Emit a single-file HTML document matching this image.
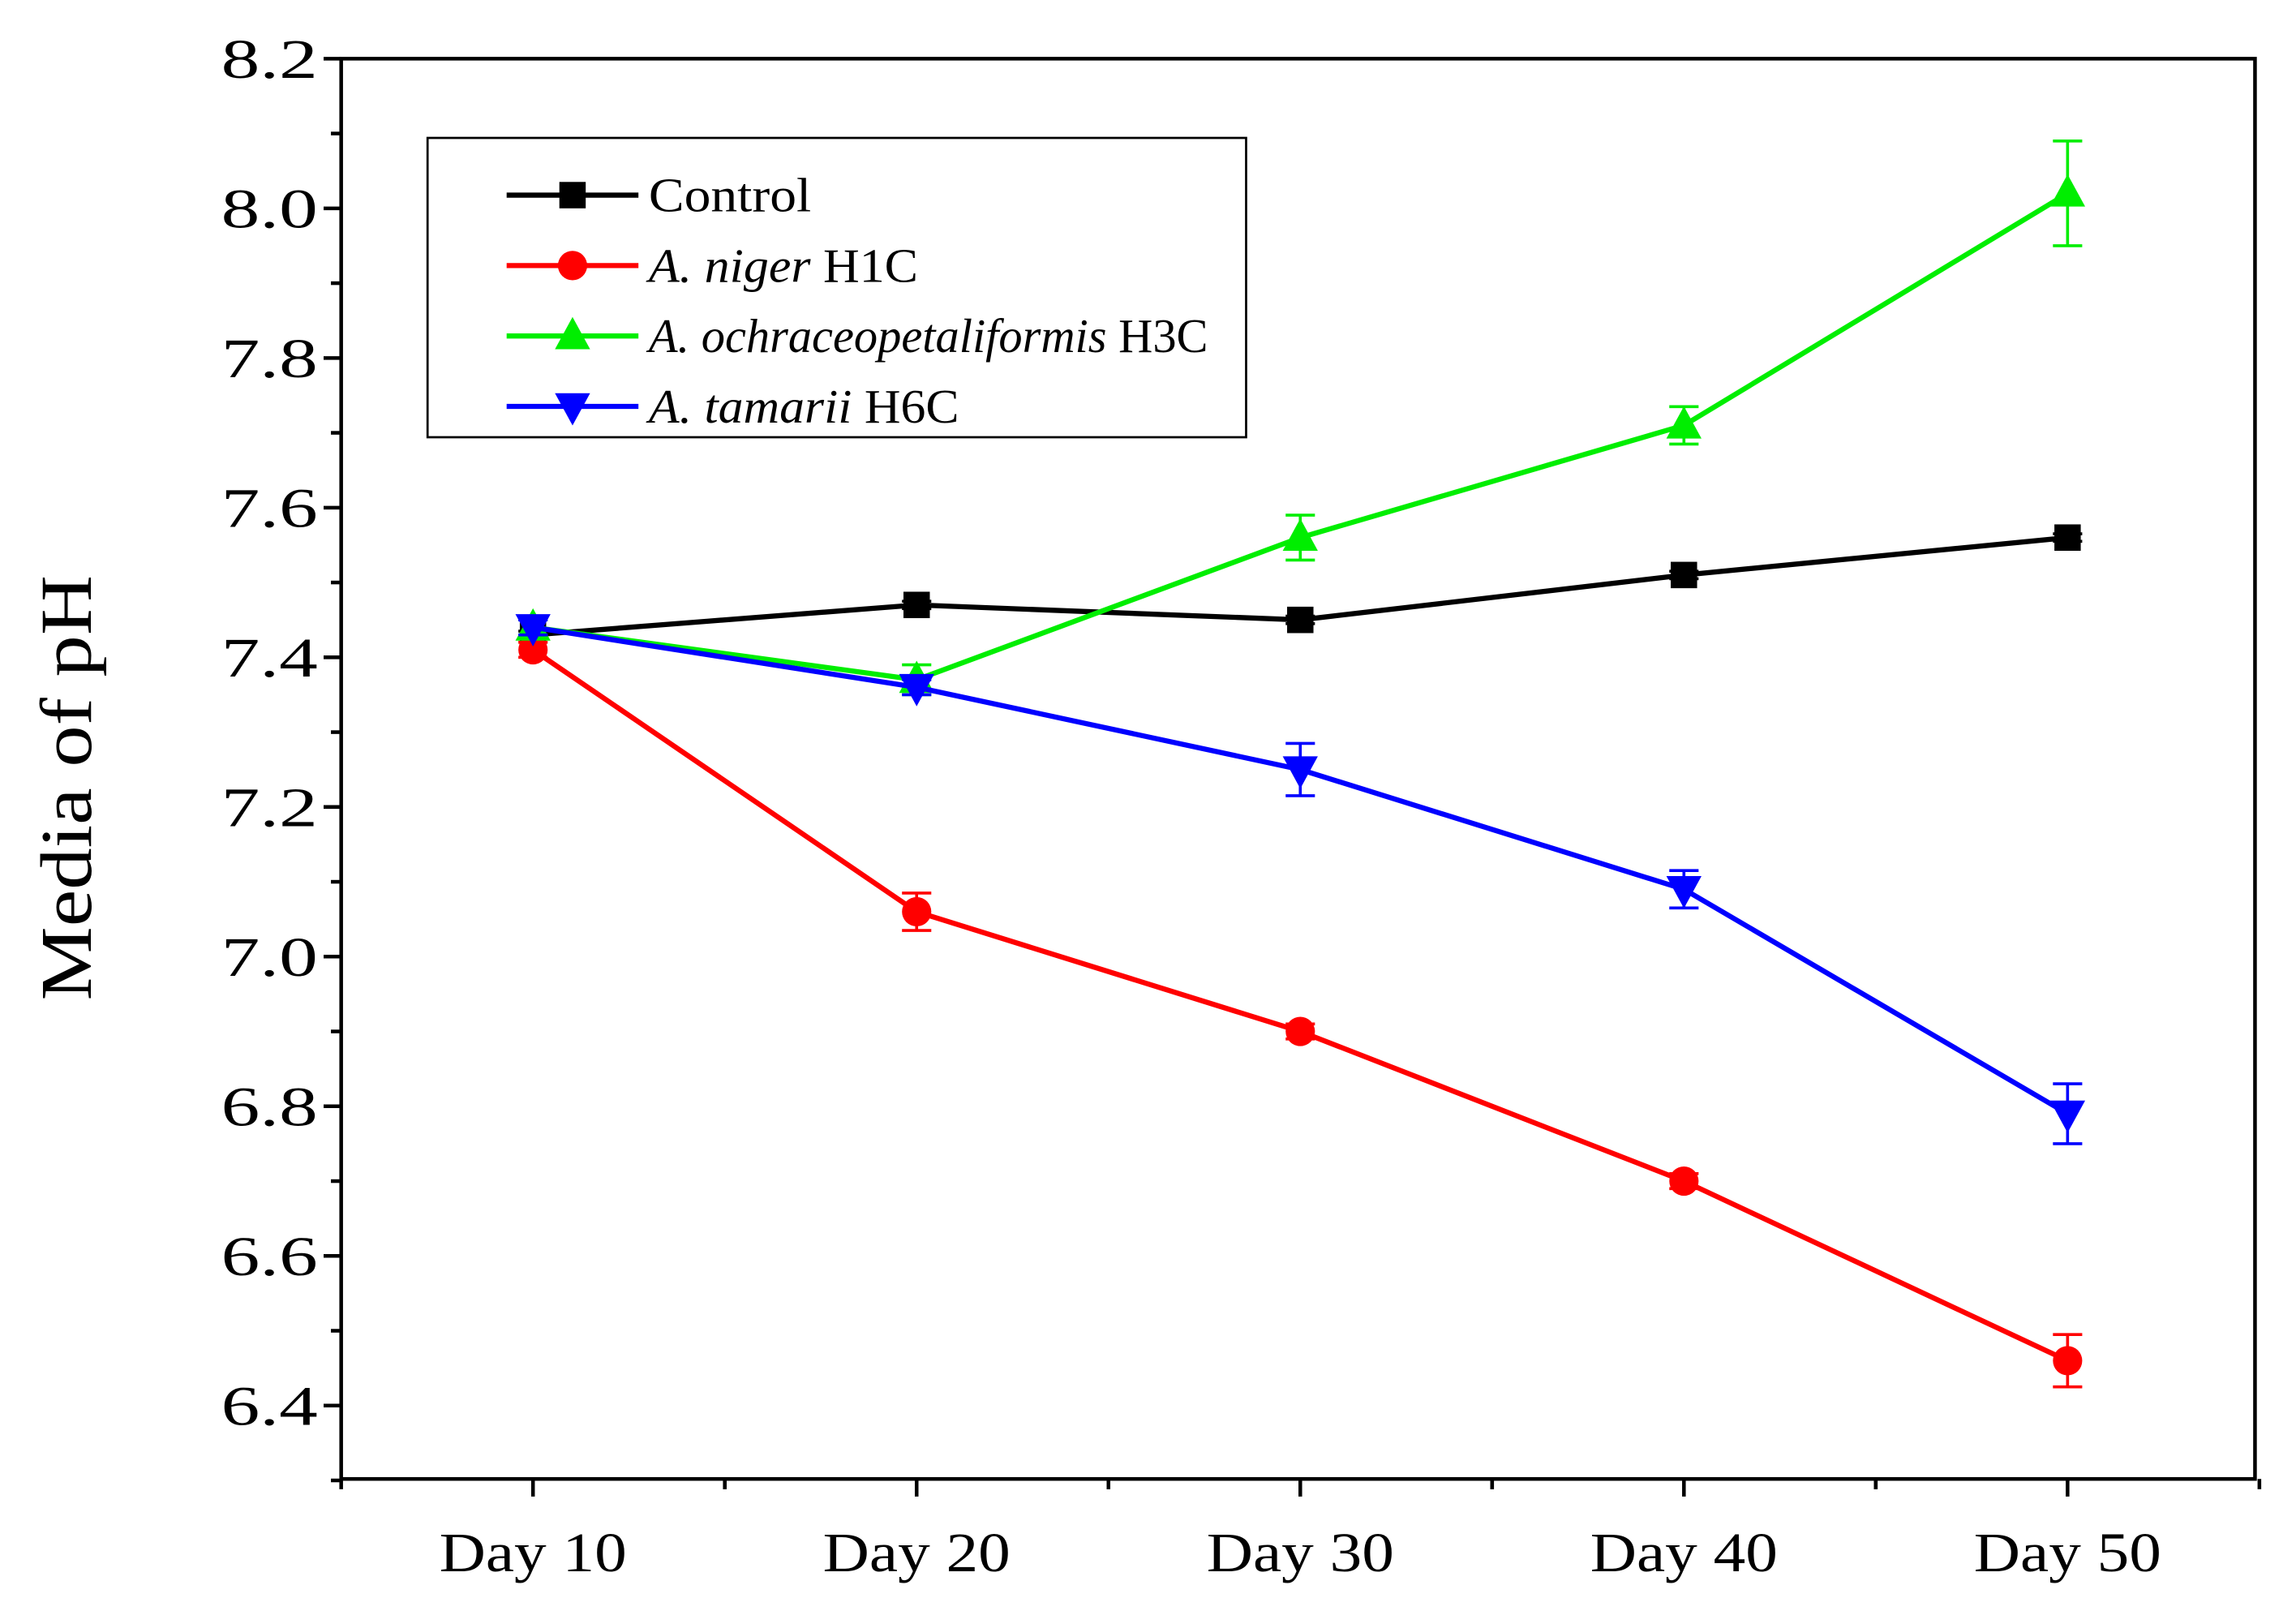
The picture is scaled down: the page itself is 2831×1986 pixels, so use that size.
<!DOCTYPE html>
<html><head><meta charset="utf-8"><style>
html,body{margin:0;padding:0;background:#fff;}
svg{display:block;font-family:"Liberation Serif",serif;}
</style></head><body>
<svg id="chart" width="2831" height="1986" viewBox="0 0 1568 1098" preserveAspectRatio="none" xmlns="http://www.w3.org/2000/svg">
<rect width="1568" height="1098" fill="#fff"/>
<g id="axes"></g>
<g id="series"></g>
<g id="legend">
<rect x="292" y="94" width="559" height="204" fill="#fff" stroke="#000" stroke-width="1.5"/>
</g>
<text transform="translate(62,537) rotate(-90)" text-anchor="middle" font-size="50" textLength="290" lengthAdjust="spacingAndGlyphs">Media of pH</text>
</svg>
<script>
const categories = ["Day 10","Day 20","Day 30","Day 40","Day 50"];
const yTicks = [6.4,6.6,6.8,7.0,7.2,7.4,7.6,7.8,8.0,8.2];
const controlVals = [7.43,7.47,7.45,7.51,7.56];
const controlErr = [0.005,0.005,0.005,0.005,0.005];
const nigerVals = [7.41,7.06,6.90,6.70,6.46];
const nigerErr = [0.01,0.025,0.01,0.01,0.035];
const ochraVals = [7.44,7.37,7.56,7.71,8.02];
const ochraErr = [0.01,0.02,0.03,0.025,0.07];
const tamariiVals = [7.44,7.36,7.25,7.09,6.79];
const tamariiErr = [0.01,0.01,0.035,0.025,0.04];

const NS="http://www.w3.org/2000/svg";
const X0=233,X1=1540,YT=40,YB=1008;
function xPos(i){return 364+i*262;}
function yPos(v){return 958-(v-6.4)/0.2*102;}
function mk(tag,attrs,parent){const e=document.createElementNS(NS,tag);for(const k in attrs)e.setAttribute(k,attrs[k]);parent.appendChild(e);return e;}
const axes=document.getElementById('axes');
mk('rect',{x:X0,y:YT,width:X1-X0,height:YB-YT,fill:'none',stroke:'#000','stroke-width':2.5},axes);
yTicks.forEach(v=>{
  const y=yPos(v);
  mk('line',{x1:X0-12,x2:X0,y1:y,y2:y,stroke:'#000','stroke-width':2.5},axes);
  const my=yPos(v-0.1);
  if(my<YB) mk('line',{x1:X0-7,x2:X0,y1:my,y2:my,stroke:'#000','stroke-width':2.5},axes);
  const t=mk('text',{x:X0-16,y:y+13,'text-anchor':'end','font-size':38,textLength:66,lengthAdjust:'spacingAndGlyphs'},axes);
  t.textContent=v.toFixed(1);
  
  
});
mk('line',{x1:X0-7,x2:X0,y1:yPos(6.3),y2:yPos(6.3),stroke:'#000','stroke-width':2.5},axes);
categories.forEach((c,i)=>{
  const x=xPos(i);
  mk('line',{x1:x,x2:x,y1:YB,y2:YB+12,stroke:'#000','stroke-width':2.5},axes);
  [x-131,x+131].forEach(mx=>mk('line',{x1:mx,x2:mx,y1:YB,y2:YB+7,stroke:'#000','stroke-width':2.5},axes));
  const t=mk('text',{x:x,y:1071,'text-anchor':'middle','font-size':38,textLength:128,lengthAdjust:'spacingAndGlyphs'},axes);
  t.textContent=c;
  
  
});
function marker(type,x,y,col,g){
  if(type==='square') return mk('rect',{x:x-9,y:y-9,width:18,height:18,fill:col},g);
  if(type==='circle') return mk('circle',{cx:x,cy:y,r:10,fill:col},g);
  if(type==='up') return mk('polygon',{points:`${x},${y-13} ${x-12},${y+9} ${x+12},${y+9}`,fill:col},g);
  return mk('polygon',{points:`${x},${y+13} ${x-12},${y-9} ${x+12},${y-9}`,fill:col},g);
}
const seriesDefs=[
  {name:'control',vals:controlVals,err:controlErr,col:'#000',m:'square'},
  {name:'niger',vals:nigerVals,err:nigerErr,col:'#ff0000',m:'circle'},
  {name:'ochra',vals:ochraVals,err:ochraErr,col:'#00ee00',m:'up'},
  {name:'tamarii',vals:tamariiVals,err:tamariiErr,col:'#0000ff',m:'down'}
];
const sg=document.getElementById('series');
seriesDefs.forEach(s=>{
  const g=mk('g',{},sg);
  
  
  const pts=s.vals.map((v,i)=>xPos(i)+','+yPos(v)).join(' ');
  mk('polyline',{points:pts,fill:'none',stroke:s.col,'stroke-width':3.5},g);
  s.vals.forEach((v,i)=>{
    const x=xPos(i),y1=yPos(v+s.err[i]),y2=yPos(v-s.err[i]);
    mk('line',{x1:x,x2:x,y1:y1,y2:y2,stroke:s.col,'stroke-width':2},g);
    mk('line',{x1:x-10,x2:x+10,y1:y1,y2:y1,stroke:s.col,'stroke-width':2},g);
    mk('line',{x1:x-10,x2:x+10,y1:y2,y2:y2,stroke:s.col,'stroke-width':2},g);
    const m=marker(s.m,x,yPos(v),s.col,g);
    
    
  });
});
const lg=document.getElementById('legend');
const legendLabels=[['Control',''],['A. niger',' H1C'],['A. ochraceopetaliformis',' H3C'],['A. tamarii',' H6C']];
const legendWidths=[111,184,382,212];
seriesDefs.forEach((s,i)=>{
  const y=133+i*48;
  const g=mk('g',{},lg);
  
  
  mk('line',{x1:346,x2:436,y1:y,y2:y,stroke:s.col,'stroke-width':3.5},g);
  marker(s.m,391,y,s.col,g);
  const t=mk('text',{x:443,y:y+11,'font-size':33,textLength:legendWidths[i],lengthAdjust:'spacingAndGlyphs'},g);
  if(i===0){t.textContent='Control';}
  else{
    const a=mk('tspan',{'font-style':'italic'},t);a.textContent=legendLabels[i][0];
    const b=mk('tspan',{},t);b.textContent=legendLabels[i][1];
  }
});
</script>
</body></html>
